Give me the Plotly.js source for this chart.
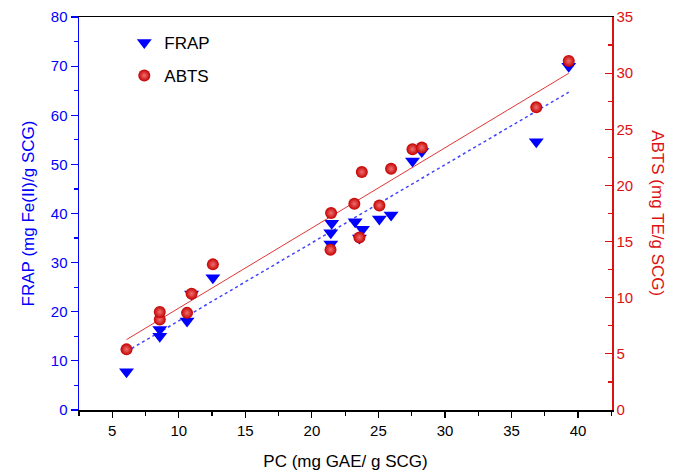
<!DOCTYPE html>
<html>
<head>
<meta charset="utf-8">
<script src="https://cdn.plot.ly/plotly-3.0.1.min.js"></script>
<style>html,body{margin:0;padding:0;background:#fff;}#chart{width:680px;height:473px;}</style>
</head>
<body>
<div id="chart"></div>
<script>
// FRAP data (left axis)
var frapX = [6.07, 8.57, 8.57, 10.62, 10.96, 12.56, 21.42, 21.42, 21.49, 23.25, 23.57, 23.80, 25.07, 25.95, 27.56, 28.26, 36.86, 39.30];
var frapY = [7.8, 15.0, 16.4, 18.1, 23.6, 26.9, 33.8, 36.1, 38.0, 38.3, 35.0, 36.8, 38.9, 39.7, 50.7, 52.6, 54.6, 70.0];
// ABTS data (right axis)
var abtsX = [6.07, 8.57, 8.57, 10.62, 10.96, 12.56, 21.40, 21.44, 23.19, 23.57, 23.75, 25.07, 25.95, 27.56, 28.26, 36.86, 39.30];
var abtsY = [5.4, 8.05, 8.73, 8.65, 10.36, 12.97, 14.28, 17.54, 18.37, 15.37, 21.19, 18.22, 21.48, 23.23, 23.37, 26.97, 31.09];
// Linear fit lines
var fitX = [6.07, 39.30];
var frapFit = [11.9, 64.7];
var abtsFit = [6.27, 29.99];

var FONT = 'Arial, "Liberation Sans", sans-serif';
var BLUE = '#0000FF';
var RED = '#DD1111';

var traces = [
  {x: fitX, y: abtsFit, yaxis: 'y2', mode: 'lines', showlegend: false, hoverinfo: 'skip',
   line: {color: '#E03535', width: 1}},
  {x: fitX, y: frapFit, mode: 'lines', showlegend: false, hoverinfo: 'skip',
   line: {color: '#4444FF', width: 1.5, dash: 'dot'}},
  {x: frapX, y: frapY, mode: 'markers', name: 'FRAP', legendgroup: 'a',
   marker: {symbol: 'triangle-down', size: 13, color: BLUE, line: {width: 0}}},
  {x: abtsX, y: abtsY, yaxis: 'y2', mode: 'markers', name: 'ABTS', legendgroup: 'b',
   marker: {symbol: 'circle', size: 12, color: '#C40000', line: {width: 0},
            gradient: {type: 'radial', color: '#F07070'}}}
];

var layout = {
  width: 680, height: 473,
  margin: {l: 79, r: 68, t: 17, b: 63},
  paper_bgcolor: '#fff', plot_bgcolor: '#fff',
  font: {family: FONT, size: 15, color: '#000'},
  showlegend: true,
  legend: {x: 0.085, y: 0.98, xanchor: 'left', yanchor: 'top', bgcolor: 'rgba(0,0,0,0)',
           font: {family: FONT, size: 17, color: '#000'}, tracegroupgap: 8, traceorder: 'grouped'},
  xaxis: {
    range: [2.5, 42.55], tick0: 0, dtick: 5, showgrid: false, zeroline: false,
    showline: true, linecolor: '#000', linewidth: 1.5, mirror: true,
    ticks: 'outside', ticklen: 6, tickwidth: 1.2, tickcolor: '#000',
    minor: {dtick: 2.5, ticks: 'outside', ticklen: 4, tickcolor: '#000', tickwidth: 1.2},
    tickfont: {family: FONT, size: 15, color: '#000'},
    title: {text: 'PC (mg GAE/ g SCG)', font: {family: FONT, size: 17, color: '#000'}, standoff: 17}
  },
  yaxis: {
    range: [0, 80], dtick: 10, showgrid: false, zeroline: false,
    showline: true, linecolor: BLUE, linewidth: 1.5,
    ticks: 'outside', ticklen: 7, tickwidth: 1.2, tickcolor: BLUE,
    minor: {dtick: 5, ticks: 'outside', ticklen: 4, tickcolor: BLUE, tickwidth: 1.2},
    tickfont: {family: FONT, size: 15, color: BLUE},
    title: {text: 'FRAP (mg Fe(II)/g SCG)', font: {family: FONT, size: 17, color: BLUE}, standoff: 12}
  },
  yaxis2: {
    range: [0, 35], dtick: 5, overlaying: 'y', side: 'right', showgrid: false, zeroline: false,
    showline: true, linecolor: RED, linewidth: 1.5,
    ticks: 'inside', ticklen: 7, tickwidth: 1.2, tickcolor: RED,
    minor: {dtick: 2.5, ticks: 'inside', ticklen: 4, tickcolor: RED, tickwidth: 1.2},
    tickfont: {family: FONT, size: 15, color: RED}
  },
  annotations: [{
    text: 'ABTS (mg TE/g SCG)', xref: 'paper', yref: 'paper', x: 1.085, y: 0.5,
    xanchor: 'center', yanchor: 'middle', textangle: 90, showarrow: false,
    font: {family: FONT, size: 17, color: RED}
  }]
};

Plotly.newPlot('chart', traces, layout, {displayModeBar: false, staticPlot: true});
</script>
</body>
</html>
